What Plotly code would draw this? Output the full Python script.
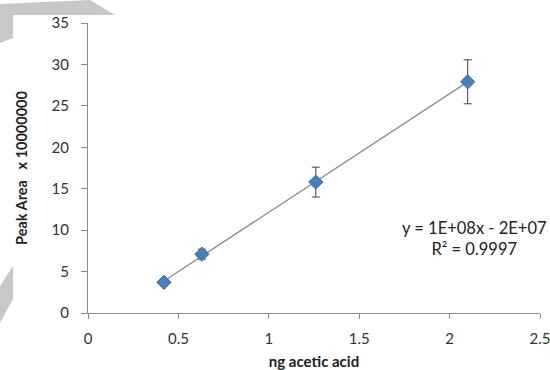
import numpy as np
import plotly.graph_objects as go

# Data (peak area in units of 1e7)
x_ng = [0.42, 0.63, 1.26, 2.10]
peak_area = [3.7, 7.1, 15.8, 27.9]
err = [0.3, 0.6, 1.8, 2.65]
x_ticks = [0, 0.5, 1, 1.5, 2, 2.5]
y_ticks = [0, 5, 10, 15, 20, 25, 30, 35]
eq_text = "y = 1E+08x - 2E+07<br>R² = 0.9997"

W, H = 550, 370
L, R, T, B = 88, 10, 23, 57
pw, ph = W - L - R, H - T - B

def px2paper(px, py):
    return (px - L) / pw, (H - B - py) / ph

def path(points):
    pts = [px2paper(*p) for p in points]
    return "M " + " L ".join(f"{a:.4f},{b:.4f}" for a, b in pts) + " Z"

# linear trendline from data
slope, intercept = np.polyfit(x_ng, peak_area, 1)
xf = [min(x_ng), max(x_ng)]
yf = [slope * v + intercept for v in xf]

fig = go.Figure()
fig.add_trace(go.Scatter(x=xf, y=yf, mode="lines",
                         line=dict(color="#8c8c8c", width=1.3),
                         hoverinfo="skip", showlegend=False))
fig.add_trace(go.Scatter(
    x=x_ng, y=peak_area, mode="markers",
    marker=dict(symbol="diamond", size=11, color="#4a7ebb",
                line=dict(color="#3f6fa8", width=1)),
    error_y=dict(type="data", array=err, visible=True, color="#404040",
                 thickness=1, width=4),
    showlegend=False))

font_family = "Lato, 'Open Sans', sans-serif"

shapes = [
    dict(type="path", xref="paper", yref="paper", layer="below",
         path=path([(0, 4), (90, 0), (115, 15), (13, 15), (13, 38), (0, 43)]),
         fillcolor="#c8c8c8", line=dict(width=0)),
    dict(type="path", xref="paper", yref="paper", layer="below",
         path=path([(0, 286), (13, 266), (13, 299), (0, 323)]),
         fillcolor="#c8c8c8", line=dict(width=0)),
]

fig.update_layout(
    width=W, height=H,
    margin=dict(l=L, r=R, t=T, b=B, autoexpand=False),
    paper_bgcolor="white", plot_bgcolor="rgba(0,0,0,0)",
    font=dict(family=font_family, size=15, color="#333333"),
    shapes=shapes,
    annotations=[dict(x=2.14, y=9.0, xref="x", yref="y", text=eq_text,
                      showarrow=False, align="center",
                      font=dict(size=16.5, color="#222222"))],
)
fig.update_xaxes(range=[0, 2.5], tickvals=x_ticks, ticktext=[f"{v:g}" for v in x_ticks],
                 showgrid=False, zeroline=False, showline=True, linecolor="#8c8c8c",
                 linewidth=1, ticks="outside", ticklen=5, tickcolor="#8c8c8c",
                 ticklabelstandoff=7, ticklabeloverflow="allow",
                 title=dict(text="<b>ng acetic acid</b>", standoff=12,
                            font=dict(size=15, color="#222222")))
fig.update_yaxes(range=[0, 35], tickvals=y_ticks,
                 showgrid=False, zeroline=False, showline=True, linecolor="#8c8c8c",
                 linewidth=1, ticks="outside", ticklen=6, tickcolor="#8c8c8c",
                 ticklabelstandoff=9, ticklabeloverflow="allow",
                 title=dict(text="<b>Peak Area   x 10000000</b>", standoff=20,
                            font=dict(size=14.5, color="#222222")))

fig.write_html("out.html")
